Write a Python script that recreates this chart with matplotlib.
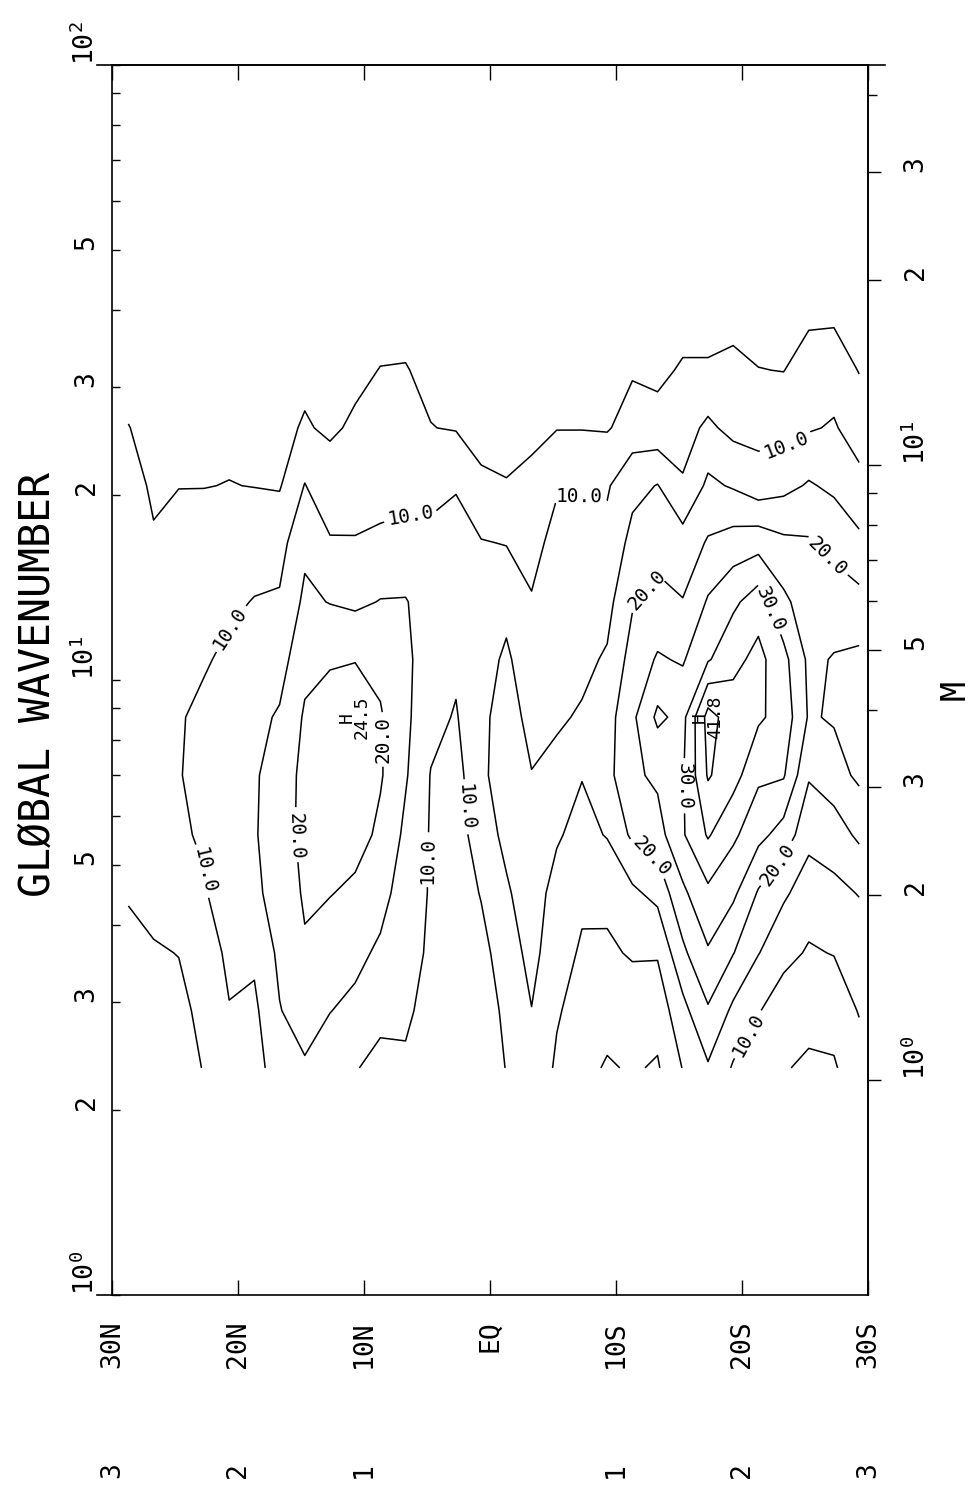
import numpy as np
import matplotlib
matplotlib.use('Agg')
import matplotlib.pyplot as plt
from matplotlib import ticker
from matplotlib.transforms import blended_transform_factory

# grid: latitude columns (deg, N positive) and global wavenumber rows
lats = [28.7, 26.7, 24.7, 22.7, 20.7, 18.7, 16.7, 14.7, 12.7, 10.7,
        8.7, 6.7, 4.7, 2.7, 0.7, -1.3, -3.3, -5.3, -7.3, -9.3,
        -11.3, -13.3, -15.3, -17.3, -19.3, -21.3, -23.3, -25.3, -27.3, -29.3]
gw_rows = [2.34, 2.9, 3.6, 4.5, 5.6, 7.0, 8.7, 10.8, 13.4, 16.7, 20.7, 25.7, 31.9, 39.6]

# field values (row = wavenumber, col = latitude)
power = [
    [2.5, 3.0, 3.2, 5.2, 8.0, 8.5, 12.0, 14.5, 13.0, 10.2, 9.0, 9.6, 8.5, 6.0, 6.5, 10.2, 13.5, 9.3, 6.5, 4.5, 5.5, 4.5, 10.2, 14.5, 9.5, 7.5, 5.3, 4.3, 4.5, 8.0],
    [3.0, 4.0, 4.0, 6.0, 9.8, 9.0, 14.8, 17.0, 15.1, 14.0, 11.0, 10.5, 9.0, 6.5, 7.5, 11.0, 14.9, 10.5, 8.0, 7.0, 7.5, 7.0, 13.5, 19.5, 14.0, 10.3, 7.5, 6.5, 7.0, 10.3],
    [4.0, 4.6, 5.1, 7.5, 11.0, 11.0, 16.0, 19.5, 17.5, 16.2, 14.2, 11.5, 9.4, 6.8, 8.5, 12.5, 16.5, 12.0, 9.4, 9.2, 10.5, 10.5, 19.0, 24.5, 20.2, 15.2, 11.5, 9.5, 10.2, 12.5],
    [5.3, 6.5, 8.0, 9.6, 12.5, 14.0, 17.0, 20.6, 20.2, 19.0, 16.8, 12.5, 9.6, 7.0, 10.3, 14.5, 17.0, 13.5, 11.0, 11.3, 14.0, 16.5, 24.0, 29.0, 26.0, 19.5, 15.8, 12.5, 13.8, 15.2],
    [7.0, 8.5, 9.3, 10.6, 13.0, 14.6, 17.5, 21.5, 22.5, 22.0, 19.0, 14.0, 9.6, 7.3, 13.0, 16.0, 16.5, 15.5, 13.5, 15.3, 21.0, 23.0, 29.5, 35.5, 31.0, 26.5, 23.0, 16.5, 17.5, 21.0],
    [8.0, 9.2, 9.8, 11.2, 12.8, 14.5, 17.0, 21.5, 23.5, 24.0, 20.5, 15.5, 9.8, 8.0, 14.4, 16.5, 15.1, 16.0, 15.2, 18.5, 24.0, 26.0, 29.5, 40.5, 37.0, 31.0, 30.5, 20.5, 23.0, 26.0],
    [8.5, 9.0, 9.7, 10.8, 12.0, 13.8, 15.5, 20.6, 22.0, 24.5, 20.5, 16.0, 11.5, 9.6, 14.2, 16.5, 14.0, 14.5, 15.4, 18.0, 24.0, 31.0, 28.5, 41.8, 37.5, 35.8, 33.0, 24.5, 25.5, 27.0],
    [8.3, 8.3, 9.0, 9.6, 10.8, 12.0, 13.0, 18.5, 19.5, 19.7, 18.5, 16.0, 12.5, 11.0, 13.0, 15.8, 12.0, 13.5, 14.0, 15.5, 22.0, 25.5, 24.5, 29.5, 33.5, 36.5, 31.5, 24.0, 25.3, 26.0],
    [7.8, 7.0, 8.0, 8.5, 9.2, 10.2, 10.5, 16.0, 14.8, 14.0, 15.2, 15.3, 12.5, 12.0, 11.5, 13.5, 10.3, 12.5, 12.8, 13.5, 19.5, 21.5, 20.2, 25.5, 29.0, 32.5, 26.0, 22.5, 22.5, 21.5],
    [7.2, 5.3, 6.5, 6.8, 7.0, 7.8, 8.3, 13.8, 10.5, 10.3, 10.8, 11.0, 11.0, 12.0, 10.3, 9.8, 8.5, 11.5, 11.5, 11.3, 16.5, 18.0, 17.0, 20.5, 22.0, 23.0, 21.0, 20.5, 18.5, 16.0],
    [6.3, 4.5, 4.9, 4.9, 5.1, 4.9, 4.6, 10.2, 6.5, 7.8, 8.3, 8.8, 8.8, 9.6, 5.5, 5.2, 5.8, 9.5, 9.6, 9.5, 13.5, 15.2, 10.5, 16.0, 14.5, 12.0, 13.5, 15.5, 14.0, 11.5],
    [5.1, 3.8, 4.0, 4.0, 4.0, 4.0, 4.2, 5.3, 4.5, 5.5, 6.5, 6.8, 5.1, 4.7, 4.0, 3.6, 4.2, 4.8, 4.8, 4.6, 7.0, 6.5, 8.0, 11.0, 8.5, 8.5, 8.0, 9.5, 10.5, 7.5],
    [3.5, 3.0, 3.0, 3.0, 3.0, 3.0, 3.5, 4.2, 3.5, 4.2, 5.1, 5.2, 4.0, 3.5, 3.0, 2.8, 3.2, 3.6, 3.6, 3.6, 4.5, 4.0, 5.5, 5.5, 6.0, 5.1, 4.9, 7.0, 7.5, 4.8],
    [2.0, 2.0, 2.0, 2.0, 2.0, 2.0, 2.5, 3.0, 2.5, 3.0, 3.5, 3.5, 2.8, 2.5, 2.3, 2.2, 2.5, 2.8, 2.8, 2.8, 3.0, 3.0, 3.0, 3.0, 3.5, 3.0, 3.0, 4.0, 4.0, 3.0],
]
plain_levels = [5, 15, 25, 35, 40]
labelled_levels = [10, 20, 30]

lat_ticks = [30, 20, 10, 0, -10, -20, -30]
lat_labels = ['30N', '20N', '10N', 'EQ', '10S', '20S', '30S']
band_index = ['3', '2', '1', '', '1', '2', '3']

gw_major = [1, 2, 3, 5, 10, 20, 30, 50, 100]
gw_labels = [r'$\mathregular{10^0}$', '2', '3', '5', r'$\mathregular{10^1}$',
             '2', '3', '5', r'$\mathregular{10^2}$']
gw_minor = [4, 6, 7, 8, 9, 40, 60, 70, 80, 90]

m_major = [1, 2, 3, 5, 10, 20, 30]
m_labels = [r'$\mathregular{10^0}$', '2', '3', '5', r'$\mathregular{10^1}$', '2', '3']
m_minor = [4, 6, 7, 8, 9, 40]
m_per_gw = 1 / 2.237

# where the contour labels sit (lat, wavenumber)
label_spots = [(20.8, 12.2), (6.3, 18.4), (-7.1, 20.0), (-23.4, 24.3), (23.3, 4.87),
               (5.6, 5.1), (2.8, 6.2), (-19.8, 2.7), (16.3, 5.55), (9.1, 8.0),
               (-12.3, 14.1), (-27.4, 16.3), (-12.9, 5.2), (-22.1, 5.16),
               (-22.1, 13.0), (-15.3, 6.7)]

plt.rcParams['font.family'] = ['DejaVu Sans Mono', 'DejaVu Sans']

fig = plt.figure(figsize=(9.69, 14.91), dpi=100)
ax = fig.add_axes([112 / 969, 196 / 1491, 756 / 969, 1230 / 1491])
ax.set_yscale('log')
ax.set_xlim(30, -30)
ax.set_ylim(1, 100)

ax.contour(lats, gw_rows, power, levels=plain_levels, colors='black', linewidths=1.1)
cs = ax.contour(lats, gw_rows, power, levels=labelled_levels, colors='black', linewidths=1.1)
ax.clabel(cs, manual=label_spots, fmt='%.1f', fontsize=14, inline=True, inline_spacing=4)

# H markers at the two maxima
z = np.array(power)
lat_arr = np.array(lats)
for mask in (lat_arr > 0, lat_arr < 0):
    sub = np.where(mask[None, :], z, -np.inf)
    i, j = np.unravel_index(np.argmax(sub), z.shape)
    ax.annotate('H', (lats[j], gw_rows[i]), xytext=(-6, 0), textcoords='offset points',
                rotation=90, ha='center', va='center', fontsize=13)
    ax.annotate(f'{z[i, j]:.1f}', (lats[j], gw_rows[i]), xytext=(5, 0),
                textcoords='offset points', rotation=90, ha='center', va='center',
                fontsize=13)

for s in ax.spines.values():
    s.set_linewidth(1.2)

# left axis: global wavenumber
ax.set_yticks(gw_major)
ax.set_yticklabels(gw_labels, rotation=90, va='bottom')
ax.set_yticks(gw_minor, minor=True)
ax.yaxis.set_minor_formatter(ticker.NullFormatter())
ax.tick_params(axis='y', which='both', direction='in', length=6, width=1,
               left=True, right=False, pad=9, labelsize=19)

# latitude ticks top and bottom
ax.set_xticks(lat_ticks)
ax.set_xticklabels(lat_labels, rotation=90)
ax.xaxis.set_minor_locator(ticker.NullLocator())
ax.tick_params(axis='x', direction='in', length=11, width=1, top=True, bottom=True,
               pad=18, labelsize=19)

# right axis: M
sec = ax.secondary_yaxis('right', functions=(lambda g: g * m_per_gw, lambda m: m / m_per_gw))
sec.set_yticks(m_major)
sec.set_yticklabels(m_labels, rotation=90, va='bottom')
sec.set_yticks(m_minor, minor=True)
sec.yaxis.set_minor_formatter(ticker.NullFormatter())
sec.tick_params(which='major', direction='out', length=9, width=1, pad=16, labelsize=19)
sec.tick_params(which='minor', direction='out', length=6.5, width=1)
sec.spines['right'].set_linewidth(1.2)

# frame lines overshoot a little like the original plotter
ax.plot([0, -0.02], [0, 0], transform=ax.transAxes, color='black', lw=1.2, clip_on=False)
ax.plot([-0.02, 1.023], [1, 1], transform=ax.transAxes, color='black', lw=1.2, clip_on=False)

trans = blended_transform_factory(ax.transData, fig.transFigure)
for lat, s in zip(lat_ticks, band_index):
    ax.text(lat, 1 - 1470 / 1491, s, transform=trans, rotation=90,
            ha='center', va='center', fontsize=19)

fig.text(38 / 969, 1 - 685 / 1491, 'GLØBAL WAVENUMBER', rotation=90,
         ha='center', va='center', fontsize=30)
fig.text(955 / 969, 1 - 690 / 1491, 'M', rotation=90, ha='center', va='center', fontsize=24)

fig.savefig('out.png', dpi=100)
